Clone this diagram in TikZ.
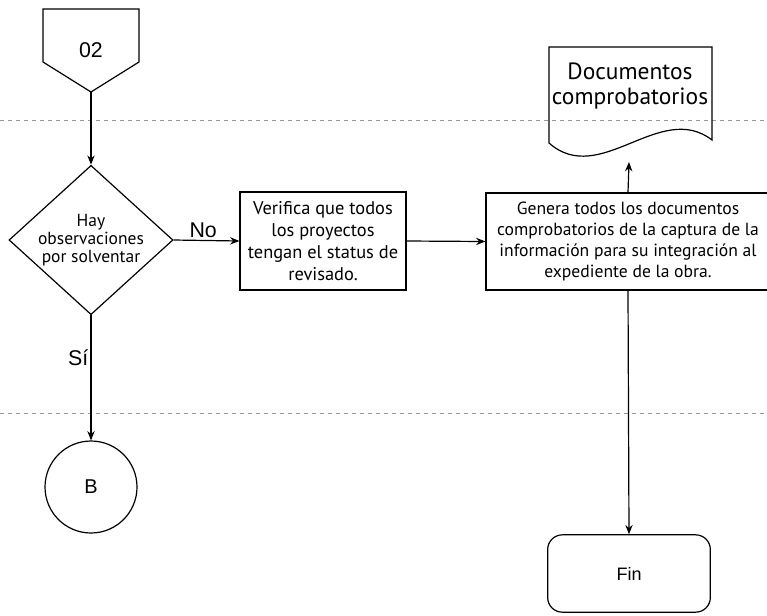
\documentclass[tikz,border=0pt]{standalone}
\usepackage{fontspec}
\setmainfont{Liberation Sans}
\newfontfamily\dinfont{PT Sans}
\usetikzlibrary{shapes.geometric, arrows.meta, positioning}
\definecolor{lanegray}{RGB}{150,150,150}
\tikzset{
  process/.style={rectangle, draw, line width=0.9pt, align=center,
    inner sep=2pt, font=\dinfont\fontsize{13.8}{16.3}\selectfont},
  decision/.style={diamond, draw, line width=0.9pt, align=center,
    inner sep=-5pt, minimum width=123pt, minimum height=112pt,
    font=\dinfont\fontsize{13.1}{13.6}\selectfont},
  connector/.style={circle, draw, line width=0.9pt, minimum size=69pt,
    font=\fontsize{15}{18}\selectfont},
  terminal/.style={rectangle, rounded corners=11pt, draw, line width=0.9pt,
    minimum width=122pt, minimum height=58pt, font=\fontsize{13.5}{15}\selectfont},
  arrow/.style={-{Stealth[length=7pt,width=5.5pt]}, line width=0.9pt},
  lane/.style={lanegray, dashed, line width=0.5pt},
  outline/.style={line width=0.9pt}
}

\begin{document}
\begin{tikzpicture}[x=0.75pt, y=-0.75pt]
  \useasboundingbox (0,0) rectangle (767,615);

  % Lanes
  \draw[lane] (0,120) -- (767,120);
  \draw[lane] (0,413) -- (767,413);

  % Off-page connector
  \draw[outline] (43,9) -- (139,9) -- (139,62) -- (91,92) -- (43,62) -- cycle;
  \node[font=\fontsize{16}{18}\selectfont] (pg02) at (91,50) {02};
  \coordinate (pg02tip) at (91,92);

  % Nodes
  \node[decision] (obs) at (91,240) {Hay\\observaciones\\por solventar};
  \node[process, minimum width=124.5pt, minimum height=73.5pt] (verif) at (323,241)
    {Verifica que todos\\los proyectos\\tengan el status de\\revisado.};
  \node[process, minimum width=213pt, minimum height=72.75pt,
    font=\dinfont\fontsize{13.2}{15.8}\selectfont] (genera) at (628,241.5)
    {Genera todos los documentos\\comprobatorios de la captura de la\\informaci\'on para su integraci\'on al\\expediente de la obra.};
  \node[connector] (conB) at (91,487) {B};
  \node[terminal] (fin) at (629,573.5) {Fin};

  % Document
  \draw[outline] (549,47) -- (712,47) -- (712,140)
    .. controls (660,100) and (600,188) .. (549,143) -- cycle;
  \node[font=\dinfont\fontsize{17.6}{18.75}\selectfont, align=center] (docs) at (630,86)
    {Documentos\\comprobatorios};
  \coordinate (docsin) at (629,162);

  % Connections
  \draw[arrow] (pg02tip) -- (obs.north);
  \draw[arrow] (obs.east) -- node[above, pos=0.45, inner sep=1.5pt,
    font=\fontsize{16}{18}\selectfont] {No} (verif.west);
  \draw[arrow] (obs.south) -- node[left, pos=0.34, inner sep=1.5pt,
    font=\fontsize{16}{18}\selectfont] {Sí} (conB.north);
  \draw[arrow] (verif.east) -- (genera.west);
  \draw[arrow] (genera.north) -- (docsin);
  \draw[arrow] (genera.south) -- (fin.north);
\end{tikzpicture}
\end{document}
